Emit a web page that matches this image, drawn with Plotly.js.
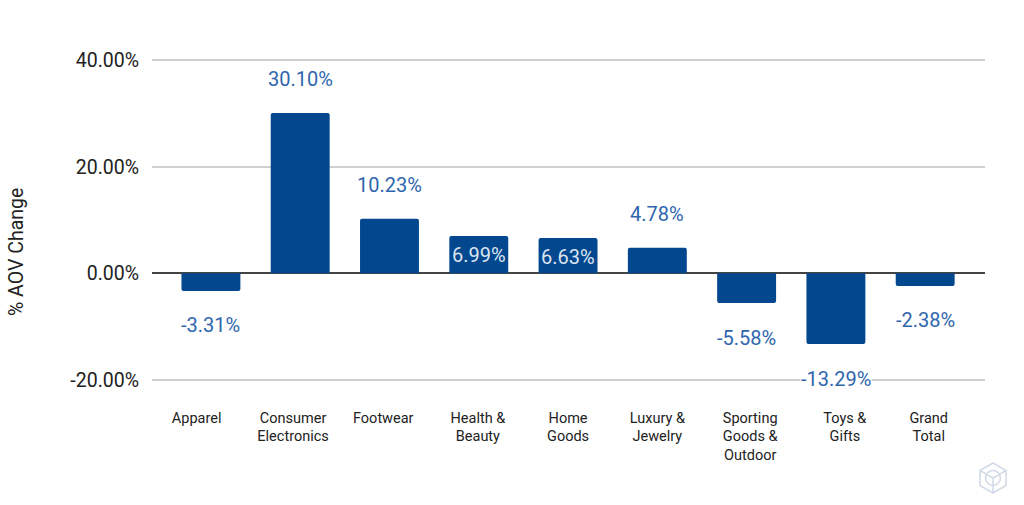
<!DOCTYPE html>
<html><head><meta charset="utf-8">
<script src="https://cdn.plot.ly/plotly-3.0.1.min.js"></script>
<style>html,body{margin:0;padding:0;background:#fff;overflow:hidden}</style>
</head><body><div id="chart" style="width:1024px;height:505px"></div>
<script>
const categories = ["Apparel","Consumer Electronics","Footwear","Health & Beauty","Home Goods","Luxury & Jewelry","Sporting Goods & Outdoor","Toys & Gifts","Grand Total"];
const aovChange = [-3.31,30.10,10.23,6.99,6.63,4.78,-5.58,-13.29,-2.38];
const barIndex = [0,1,2,3,4,5,6,7,8];
const tickLabels = ["Apparel","Consumer<br>Electronics","Footwear","Health &<br>Beauty","Home<br>Goods","Luxury &<br>Jewelry","Sporting<br>Goods &<br>Outdoor","Toys &<br>Gifts","Grand<br>Total"];
const tickLabelPos = [-0.16,0.92,1.93,2.99,4,5,6.04,7.1,8.04];
const insideLabels = ["Health & Beauty","Home Goods"];
const yTicks = [-20,0,20,40];
const yTickLabels = ["-20.00%","0.00%","20.00%","40.00%"];

const annotations = aovChange.map((v,i)=>{
  const inside = insideLabels.includes(categories[i]);
  return {
    x: barIndex[i], y: v, xref:'x', yref:'y', showarrow:false,
    text: v.toFixed(2)+'%',
    yshift: inside ? -19 : (v>0 ? 34 : -34.5),
    bgcolor: (!inside && v < -10) ? '#fff' : 'rgba(0,0,0,0)',
    borderpad: 0,
    font:{family:'Roboto',size:20,color: inside ? '#dbe4f0' : '#2f66ae'}
  };
});
annotations.push({
  xref:'paper',yref:'paper',x:(16-152)/833,y:(382-252)/324,xanchor:'center',yanchor:'middle',
  showarrow:false,textangle:-90,
  text:'% AOV Change',font:{family:'Roboto',size:19.5,color:'#222'}
});

const hex = 'M0,15 L13,7.5 L13,-7.5 L0,-15 L-13,-7.5 L-13,7.5 Z M-13,7.5 L0,0 L13,7.5 M0,0 L0,-15 M-7.5,0 C-7.5,4 -4,7.5 0,7.5 C4,7.5 7.5,4 7.5,0 C7.5,-4 4,-7.5 0,-7.5 C-4,-7.5 -7.5,-4 -7.5,0 Z';
const wm = {type:'path',xref:'paper',yref:'paper',xsizemode:'pixel',ysizemode:'pixel',
  xanchor:(993-152)/833,yanchor:(382-478)/324,path:hex,
  line:{color:'#d2dbe7',width:1.6},fillcolor:'rgba(0,0,0,0)'};

Plotly.newPlot('chart',[{
  type:'bar', x:barIndex, y:aovChange, width:0.66,
  marker:{color:'#03488f',cornerradius:2},
  hoverinfo:'skip'
}],{
  width:1024,height:505,
  margin:{l:152,r:39,t:58,b:123,autoexpand:false},
  paper_bgcolor:'#fff',plot_bgcolor:'#fff',
  showlegend:false,
  xaxis:{type:'linear',range:[-0.66,8.67],tickmode:'array',tickvals:tickLabelPos,ticktext:tickLabels,
    showgrid:false,zeroline:false,ticks:'',showline:false,tickangle:0,ticklabelstandoff:25,
    tickfont:{family:'Roboto',size:14.5,color:'#222'}},
  yaxis:{range:[-20.4,40.4],tickmode:'array',tickvals:yTicks,ticktext:yTickLabels,
    gridcolor:'#cfcfcf',gridwidth:2,zeroline:true,zerolinecolor:'#444',zerolinewidth:2,
    ticks:'',showline:false,ticklabelstandoff:12,
    tickfont:{family:'Roboto',size:19.5,color:'#222'}},
  annotations:annotations,
  shapes:[wm]
},{displayModeBar:false,staticPlot:true});
</script></body></html>
